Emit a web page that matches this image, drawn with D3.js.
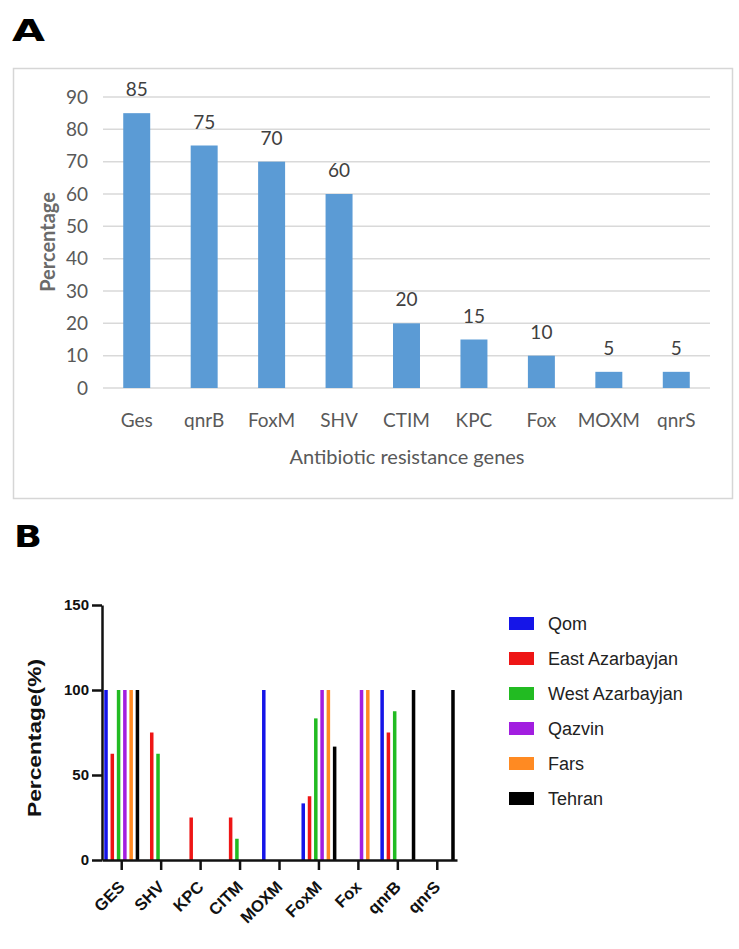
<!DOCTYPE html>
<html>
<head>
<meta charset="utf-8">
<script src="https://cdn.jsdelivr.net/npm/d3@7/dist/d3.min.js"></script>
<style>
  html, body { margin: 0; padding: 0; background: #fff; }
  svg { display: block; }
</style>
</head>
<body>
<svg id="chart" width="739" height="949"></svg>
<script>
// ---------- Panel A data ----------
const genesA = ["Ges", "qnrB", "FoxM", "SHV", "CTIM", "KPC", "Fox", "MOXM", "qnrS"];
const percentA = [85, 75, 70, 60, 20, 15, 10, 5, 5];
const ticksA = [0, 10, 20, 30, 40, 50, 60, 70, 80, 90];

// ---------- Panel B data ----------
const genesB = ["GES", "SHV", "KPC", "CITM", "MOXM", "FoxM", "Fox", "qnrB", "qnrS"];
const provinces = ["Qom", "East Azarbayjan", "West Azarbayjan", "Qazvin", "Fars", "Tehran"];
const qom      = [100, 0, 0, 0, 100, 33.3, 0, 100, 0];
const eastAz   = [62.5, 75, 25, 25, 0, 37.5, 0, 75, 0];
const westAz   = [100, 62.5, 0, 12.5, 0, 83.3, 0, 87.5, 0];
const qazvin   = [100, 0, 0, 0, 0, 100, 100, 0, 0];
const fars     = [100, 0, 0, 0, 0, 100, 100, 0, 0];
const tehran   = [100, 0, 0, 0, 0, 66.7, 0, 100, 100];
const ticksB = [0, 50, 100, 150];
const provinceColors = ["#1515e8", "#ee1515", "#22bb22", "#a21ee0", "#ff8a22", "#000000"];

const svg = d3.select("#chart");
const fontA = "Lato, 'Open Sans', sans-serif";
const fontB = "'Liberation Sans', Arial, sans-serif";

// ================= PANEL A =================
svg.append("text")
  .attr("x", 12).attr("y", 41)
  .attr("font-family", "'DejaVu Sans', sans-serif")
  .attr("font-weight", "bold")
  .attr("font-size", 30)
  .attr("textLength", 33).attr("lengthAdjust", "spacingAndGlyphs")
  .text("A");

svg.append("rect")
  .attr("x", 13.5).attr("y", 68.5).attr("width", 719).attr("height", 430)
  .attr("fill", "#fff").attr("stroke", "#d6d6d6").attr("stroke-width", 1.5);

const xA = d3.scaleBand().domain(genesA).range([103, 710]).paddingInner(0.6).paddingOuter(0.3);
const yA = d3.scaleLinear().domain([0, 90]).range([388, 97]);

const gA = svg.append("g");
gA.selectAll("line.grid").data(ticksA).join("line")
  .attr("x1", 103).attr("x2", 710)
  .attr("y1", d => yA(d)).attr("y2", d => yA(d))
  .attr("stroke", "#d9d9d9").attr("stroke-width", 1.5);

gA.selectAll("text.ytick").data(ticksA).join("text")
  .attr("x", 88).attr("y", d => yA(d)).attr("dy", "0.35em")
  .attr("text-anchor", "end")
  .attr("font-family", fontA).attr("font-size", 19).attr("fill", "#595959")
  .text(d => d);

gA.selectAll("rect.bar").data(genesA).join("rect")
  .attr("x", d => xA(d)).attr("width", xA.bandwidth())
  .attr("y", (d, i) => yA(percentA[i]))
  .attr("height", (d, i) => yA(0) - yA(percentA[i]))
  .attr("fill", "#5b9bd5");

gA.selectAll("text.val").data(genesA).join("text")
  .attr("x", d => xA(d) + xA.bandwidth() / 2)
  .attr("y", (d, i) => yA(percentA[i]) - 17)
  .attr("text-anchor", "middle")
  .attr("font-family", fontA).attr("font-size", 19).attr("fill", "#404040")
  .text((d, i) => percentA[i]);

gA.selectAll("text.xtick").data(genesA).join("text")
  .attr("x", d => xA(d) + xA.bandwidth() / 2)
  .attr("y", 427)
  .attr("text-anchor", "middle")
  .attr("font-family", fontA).attr("font-size", 19).attr("fill", "#595959")
  .text(d => d);

svg.append("text")
  .attr("transform", "translate(55,242) rotate(-90)")
  .attr("text-anchor", "middle")
  .attr("font-family", fontA).attr("font-size", 20).attr("font-weight", "bold").attr("fill", "#6a6a6a")
  .text("Percentage");

svg.append("text")
  .attr("x", 407).attr("y", 464)
  .attr("text-anchor", "middle")
  .attr("font-family", fontA).attr("font-size", 20).attr("fill", "#595959")
  .text("Antibiotic resistance genes");

// ================= PANEL B =================
svg.append("text")
  .attr("x", 14).attr("y", 547)
  .attr("font-family", "'DejaVu Sans', sans-serif")
  .attr("font-weight", "bold")
  .attr("font-size", 30)
  .attr("textLength", 28).attr("lengthAdjust", "spacingAndGlyphs")
  .text("B");

const x0 = d3.scaleBand().domain(genesB).range([102, 457]).paddingInner(0).paddingOuter(0);
const x1 = d3.scaleBand().domain(provinces).range([1, x0.bandwidth() - 1]).paddingInner(0.44).paddingOuter(0.2);
const yB = d3.scaleLinear().domain([0, 150]).range([860, 605]);
const seriesB = [qom, eastAz, westAz, qazvin, fars, tehran];

const gB = svg.append("g");
seriesB.forEach((vals, si) => {
  gB.selectAll(null).data(genesB).join("rect")
    .attr("x", d => x0(d) + x1(provinces[si]))
    .attr("width", x1.bandwidth())
    .attr("y", (d, i) => yB(vals[i]))
    .attr("height", (d, i) => yB(0) - yB(vals[i]))
    .attr("fill", provinceColors[si]);
});

// y axis
const yAxisB = d3.axisLeft(yB).tickValues(ticksB).tickSize(10).tickPadding(3).tickSizeOuter(0);
const gy = svg.append("g").attr("transform", "translate(102,0)").call(yAxisB);
gy.select(".domain").attr("stroke", "#111").attr("stroke-width", 2.5);
gy.selectAll(".tick line").attr("stroke", "#111").attr("stroke-width", 2.5);
gy.selectAll(".tick text").attr("font-family", fontB).attr("font-weight", "bold")
  .attr("font-size", 15).attr("fill", "#111");

// x axis
const xAxisB = d3.axisBottom(x0).tickSize(10).tickSizeOuter(0);
const gx = svg.append("g").attr("transform", "translate(0,860)").call(xAxisB);
gx.select(".domain").attr("stroke", "#111").attr("stroke-width", 2.5);
gx.selectAll(".tick line").attr("stroke", "#111").attr("stroke-width", 2.5);
gx.selectAll(".tick text")
  .attr("font-family", fontB).attr("font-weight", "bold").attr("font-size", 16.5).attr("fill", "#111")
  .attr("text-anchor", "end")
  .attr("x", 0).attr("y", 0).attr("dy", 0)
  .attr("transform", "translate(4,28) rotate(-45)");

// y title
svg.append("text")
  .attr("transform", "translate(41,738) rotate(-90)")
  .attr("text-anchor", "middle")
  .attr("font-family", fontB).attr("font-weight", "bold").attr("font-size", 19).attr("fill", "#111")
  .attr("textLength", 158).attr("lengthAdjust", "spacingAndGlyphs")
  .text("Percentage(%)");

// legend
const leg = svg.append("g").attr("transform", "translate(509,617)");
leg.selectAll("rect").data(provinces).join("rect")
  .attr("x", 0).attr("y", (d, i) => i * 35)
  .attr("width", 25).attr("height", 13)
  .attr("fill", (d, i) => provinceColors[i]);
leg.selectAll("text").data(provinces).join("text")
  .attr("x", 39).attr("y", (d, i) => i * 35 + 6.5).attr("dy", "0.36em")
  .attr("font-family", fontB).attr("font-size", 18).attr("fill", "#222")
  .text(d => d);
</script>
</body>
</html>
